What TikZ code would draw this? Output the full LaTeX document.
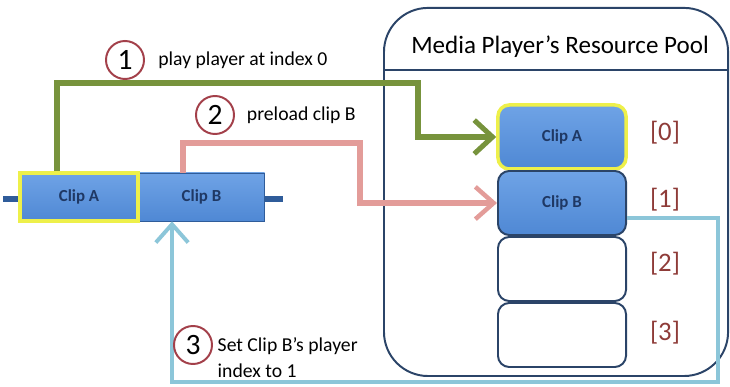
\documentclass[tikz,border=0pt]{standalone}
\usepackage{fontspec}
\setmainfont{Carlito}
\usetikzlibrary{arrows.meta,positioning,calc}
\definecolor{clipfill}{HTML}{4F88D4}
\definecolor{cliptop}{HTML}{6FA3E6}
\definecolor{clipedge}{HTML}{2F5C9A}
\definecolor{cliptext}{HTML}{1F3864}
\definecolor{poolnavy}{HTML}{2B4468}
\definecolor{stepred}{HTML}{A3404A}
\definecolor{idxred}{HTML}{8E3B38}
\definecolor{playgreen}{HTML}{77933C}
\definecolor{loadpink}{HTML}{E39C99}
\definecolor{setcyan}{HTML}{8CC6D9}
\definecolor{hiyellow}{HTML}{EEF04A}

\begin{document}
\begin{tikzpicture}[x=0.025cm, y=0.025cm,
  clipbox/.style={draw=clipedge, top color=cliptop, bottom color=clipfill, minimum width=3.1cm, minimum height=1.2cm, font=\fontsize{12}{14}\selectfont\bfseries, text=cliptext, inner sep=0pt},
  slot/.style={draw=poolnavy, line width=1.4pt, rounded corners=8pt, minimum width=3.2cm, minimum height=1.6cm, font=\fontsize{12}{14}\selectfont\bfseries, text=cliptext, inner sep=0pt},
  stepnum/.style={circle, draw=stepred, line width=1.4pt, fill=white, minimum size=0.95cm, inner sep=0pt, font=\fontsize{21}{24}\selectfont},
  note/.style={font=\fontsize{14}{19}\selectfont, align=left},
  idx/.style={text=idxred, font=\fontsize{19}{22}\selectfont},
  flow/.style={line width=#1, rounded corners=0pt},
]
\useasboundingbox (0,0) rectangle (730,387);

% Resource pool
\node[draw=poolnavy, line width=1.4pt, rounded corners=1.1cm, minimum width=8.6cm, minimum height=9.2cm, anchor=south west] (pool) at (383,10) {};
\coordinate (sepl) at (383,317);
\coordinate (sepr) at (727,317);
\draw[poolnavy, line width=1pt] (sepl) -- (sepr);
\node[font=\fontsize{17.8}{21}\selectfont] (pooltitle) at (560,340) {Media Player’s Resource Pool};

% Slots
\node[slot, draw=hiyellow, line width=2.5pt, top color=cliptop, bottom color=clipfill] (slotA) at (562,250) {Clip A};
\node[slot, top color=cliptop, bottom color=clipfill] (slotB) at (562,184) {Clip B};
\node[slot] (slotC) at (562,118) {};
\node[slot] (slotD) at (562,52) {};

\node[idx] (idx0) at (665,254) {[0]};
\node[idx] (idx1) at (665,187) {[1]};
\node[idx] (idx2) at (665,123) {[2]};
\node[idx] (idx3) at (665,54) {[3]};

% Timeline
\node[fill=clipedge, minimum width=0.45cm, minimum height=0.16cm, inner sep=0pt] (stubl) at (12,188) {};
\node[fill=clipedge, minimum width=0.45cm, minimum height=0.16cm, inner sep=0pt] (stubr) at (274,188) {};
\node[clipbox, minimum width=2.95cm] (clipA) at (79,190) {Clip A};
\node[clipbox, minimum width=3.15cm] (clipB) at (201.5,190) {Clip B};
\node[draw=hiyellow, line width=2.5pt, minimum width=2.95cm, minimum height=1.2cm, inner sep=0pt] (clipAhi) at (clipA) {};

% Step 1: play
\coordinate (g1) at (57,304);
\coordinate (g2) at (418,304);
\draw[playgreen, flow=4.2pt, -{Straight Barb[length=13pt, width=24pt, line width=3.6pt]}]
  (clipAhi.north -| g1) -- (g1) -- (g2) |- (slotA.west);
\node[stepnum] (s1) at (125,327) {1};
\node[note, right=6pt of s1] (t1) {play player at index 0};

% Step 2: preload
\coordinate (p1) at (183,244);
\coordinate (p2) at (360,244);
\draw[loadpink, flow=3.6pt, -{Straight Barb[length=13pt, width=23pt, line width=3.2pt]}]
  (clipB.north -| p1) -- (p1) -- (p2) |- (slotB.west);
\node[stepnum] (s2) at (215,272) {2};
\node[note, right=5pt of s2] (t2) {preload clip B};

% Step 3: set index
\coordinate (c1) at (718,169);
\coordinate (c2) at (718,5);
\coordinate (c3) at (172,5);
\draw[setcyan, flow=3pt, -{Straight Barb[length=13pt, width=23pt, line width=2.8pt]}]
  (slotB.south east |- c1) -- (c1) -- (c2) -- (c3) -- (clipB.south -| c3);
\node[stepnum] (s3) at (193,42) {3};
\node[note, anchor=north west] (t3) at ([xshift=4pt, yshift=-1pt]s3.north east) {Set Clip B’s player\\index to 1};
\end{tikzpicture}
\end{document}
